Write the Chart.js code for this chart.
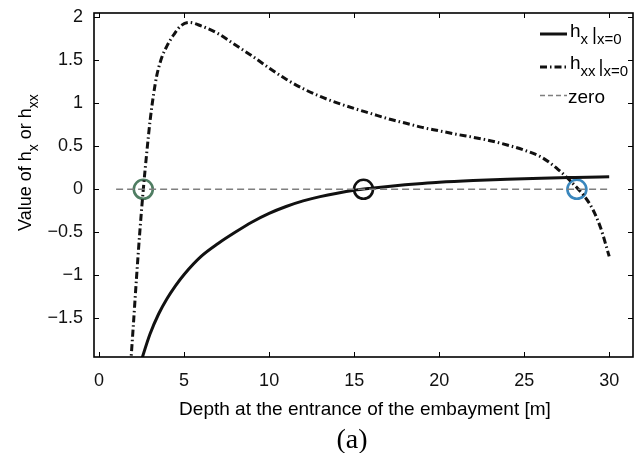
<!DOCTYPE html>
<html>
<head>
<meta charset="utf-8">
<title>h_x and h_xx vs depth</title>
<style>
body { margin: 0; background: #fff; }
#wrap { width: 635px; height: 453px; }
</style>
</head>
<body>
<script src="https://cdn.jsdelivr.net/npm/chart.js@4/dist/chart.umd.min.js"></script>
<div id="wrap"><canvas id="depthplot" width="635" height="453"></canvas></div>
<script>
// h_x at x=0 (solid)
var hxDepth = [2.4, 2.55, 3, 3.5, 4, 4.5, 5, 6, 7, 8, 9, 10, 11, 12, 13, 14, 15, 16, 17, 18, 19, 20, 22, 24, 26, 28, 30];
var hxValue = [-2.05, -1.95, -1.68, -1.45, -1.27, -1.12, -0.99, -0.78, -0.63, -0.50, -0.38, -0.28, -0.20, -0.135, -0.085, -0.045, -0.012, 0.012, 0.033, 0.052, 0.068, 0.082, 0.102, 0.117, 0.129, 0.138, 0.146];

// h_xx at x=0 (dash-dot)
var hxxDepth = [1.85, 2.0, 2.2, 2.4, 2.6, 2.8, 3.0, 3.2, 3.4, 3.7, 4.0, 4.4, 4.8, 5.3, 6, 7, 8, 9, 10, 11, 12, 13, 14, 15, 16, 17, 18, 19, 20, 21, 22, 23, 24, 25, 26, 26.5, 27, 27.5, 28, 28.5, 29, 29.5, 30];
var hxxValue = [-2.05, -1.62, -1.03, -0.48, 0.0, 0.42, 0.80, 1.10, 1.33, 1.54, 1.67, 1.80, 1.90, 1.94, 1.90, 1.81, 1.68, 1.55, 1.41, 1.28, 1.17, 1.08, 1.005, 0.94, 0.88, 0.82, 0.77, 0.72, 0.68, 0.64, 0.605, 0.565, 0.515, 0.455, 0.375, 0.31, 0.23, 0.14, 0.04, -0.07, -0.22, -0.45, -0.78];

// zero reference line
var zeroDepth = [1, 30];
var zeroValue = [0, 0];

// circled crossings
var markDepth = [2.6, 15.55, 28.1];
var markValue = [0, 0, 0];
var markColor = ["#4f7d62", "#111111", "#3a87bd"];

// tick labels
var xTickValues = [0, 5, 10, 15, 20, 25, 30];
var yTickValues = [-1.5, -1, -0.5, 0, 0.5, 1, 1.5, 2];

function pts(xs, ys) {
  var out = [];
  for (var i = 0; i < xs.length; i++) out.push({x: xs[i], y: ys[i]});
  return out;
}

var FONT = "'Liberation Sans', Arial, sans-serif";
var dashDot = [7, 3, 1.5, 3];

// draws a string made of normal and subscript parts, returns the end x
function drawParts(ctx, parts, x, y, size) {
  for (var i = 0; i < parts.length; i++) {
    var p = parts[i];
    var fs = p.sub ? Math.round(size * 0.78) : size;
    ctx.font = fs + "px " + FONT;
    var dy = p.sub ? size * 0.38 : (p.dy || 0);
    ctx.fillText(p.t, x, y + dy);
    x += ctx.measureText(p.t).width + (p.gap || 0);
  }
  return x;
}

var framePlugin = {
  id: 'frame',
  afterDatasetsDraw: function(chart) {
    var ctx = chart.ctx, a = chart.chartArea;
    var xs = chart.scales.x, ys = chart.scales.y;
    ctx.save();
    ctx.strokeStyle = "#000";
    ctx.lineWidth = 1;
    ctx.setLineDash([]);
    // inner ticks on all four sides
    xs.ticks.forEach(function(t) {
      var px = Math.round(xs.getPixelForValue(t.value)) + 0.5;
      ctx.beginPath();
      ctx.moveTo(px, a.bottom); ctx.lineTo(px, a.bottom - 5);
      ctx.moveTo(px, a.top); ctx.lineTo(px, a.top + 5);
      ctx.stroke();
    });
    ys.ticks.forEach(function(t) {
      var py = Math.round(ys.getPixelForValue(t.value)) + 0.5;
      ctx.beginPath();
      ctx.moveTo(a.left, py); ctx.lineTo(a.left + 5, py);
      ctx.moveTo(a.right, py); ctx.lineTo(a.right - 5, py);
      ctx.stroke();
    });
    ctx.lineWidth = 1.6;
    ctx.strokeRect(a.left, a.top, a.right - a.left, a.bottom - a.top);

    // legend
    ctx.fillStyle = "#000";
    ctx.textBaseline = "alphabetic";
    ctx.textAlign = "left";
    ctx.lineWidth = 3;
    ctx.strokeStyle = "#111";
    ctx.beginPath(); ctx.moveTo(540, 34); ctx.lineTo(567, 34); ctx.stroke();
    drawParts(ctx, [{t: "h"}, {t: "x", sub: true, gap: 4}, {t: "|", dy: 3}, {t: "x=0", sub: true}], 570, 37, 19);

    ctx.setLineDash(dashDot);
    ctx.beginPath(); ctx.moveTo(540, 67); ctx.lineTo(567, 67); ctx.stroke();
    ctx.setLineDash([]);
    drawParts(ctx, [{t: "h"}, {t: "xx", sub: true, gap: 3}, {t: "|", dy: 3}, {t: "x=0", sub: true}], 570, 69, 19);

    ctx.strokeStyle = "#7f7f7f";
    ctx.lineWidth = 1.5;
    ctx.setLineDash([5, 3]);
    ctx.beginPath(); ctx.moveTo(540, 95.5); ctx.lineTo(567, 95.5); ctx.stroke();
    ctx.setLineDash([]);
    drawParts(ctx, [{t: "zero"}], 568, 103, 19);

    // axis titles and caption
    ctx.textAlign = "center";
    ctx.textBaseline = "middle";
    ctx.font = "19px " + FONT;
    ctx.fillText("Depth at the entrance of the embayment [m]", 365, 410);
    ctx.font = "28px 'Liberation Serif', 'Times New Roman', serif";
    ctx.fillText("(a)", 352, 441);

    ctx.translate(31, 231);
    ctx.rotate(-Math.PI / 2);
    ctx.textAlign = "left";
    ctx.textBaseline = "alphabetic";
    drawParts(ctx, [{t: "Value of h"}, {t: "x", sub: true}, {t: " or h"}, {t: "xx", sub: true}], 0, 0, 18);
    ctx.restore();
  }
};

function fixedTicks(values) {
  return function(s) {
    s.ticks = values.map(function(v) { return {value: v}; });
  };
}

var ctx = document.getElementById("depthplot");
var myChart = new Chart(ctx, {
  type: 'scatter',
  data: {
    datasets: [
      {
        label: "zero",
        data: pts(zeroDepth, zeroValue),
        showLine: true,
        borderColor: "#7f7f7f",
        borderWidth: 1.5,
        borderDash: [7, 4],
        pointRadius: 0
      },
      {
        label: "h_x|x=0",
        data: pts(hxDepth, hxValue),
        showLine: true,
        borderColor: "#111",
        borderWidth: 3,
        cubicInterpolationMode: 'monotone',
        pointRadius: 0
      },
      {
        label: "h_xx|x=0",
        data: pts(hxxDepth, hxxValue),
        showLine: true,
        borderColor: "#111",
        borderWidth: 3,
        borderDash: dashDot,
        cubicInterpolationMode: 'monotone',
        pointRadius: 0
      },
      {
        label: "crossings",
        data: pts(markDepth, markValue),
        showLine: false,
        pointRadius: 9.5,
        pointBorderWidth: 2.6,
        pointBorderColor: markColor,
        pointBackgroundColor: "rgba(0,0,0,0)"
      }
    ]
  },
  options: {
    responsive: false,
    animation: false,
    // big circle markers would otherwise add auto padding round the plot
    layout: { autoPadding: false, padding: { top: 13, right: 2, left: 0, bottom: 0 } },
    plugins: {
      legend: { display: false },
      tooltip: { enabled: false }
    },
    scales: {
      x: {
        type: 'linear',
        min: -0.3,
        max: 31.4,
        grid: { display: false, drawTicks: false },
        border: { display: false },
        afterBuildTicks: fixedTicks(xTickValues),
        ticks: {
          padding: 13,
          color: "#111",
          maxRotation: 0,
          font: { family: FONT, size: 18 }
        },
        afterFit: function(s) { s.height = 96; s.paddingLeft = 0; s.paddingRight = 0; }
      },
      y: {
        type: 'linear',
        min: -1.95,
        max: 2.05,
        grid: { display: false, drawTicks: false },
        border: { display: false },
        afterBuildTicks: fixedTicks(yTickValues),
        ticks: {
          padding: 11,
          color: "#111",
          font: { family: FONT, size: 18 },
          callback: function(v) { return String(v).replace("-", "\u2212"); }
        },
        afterFit: function(s) { s.width = 94; s.paddingTop = 0; s.paddingBottom = 0; }
      }
    }
  },
  plugins: [framePlugin]
});
</script>
</body>
</html>
